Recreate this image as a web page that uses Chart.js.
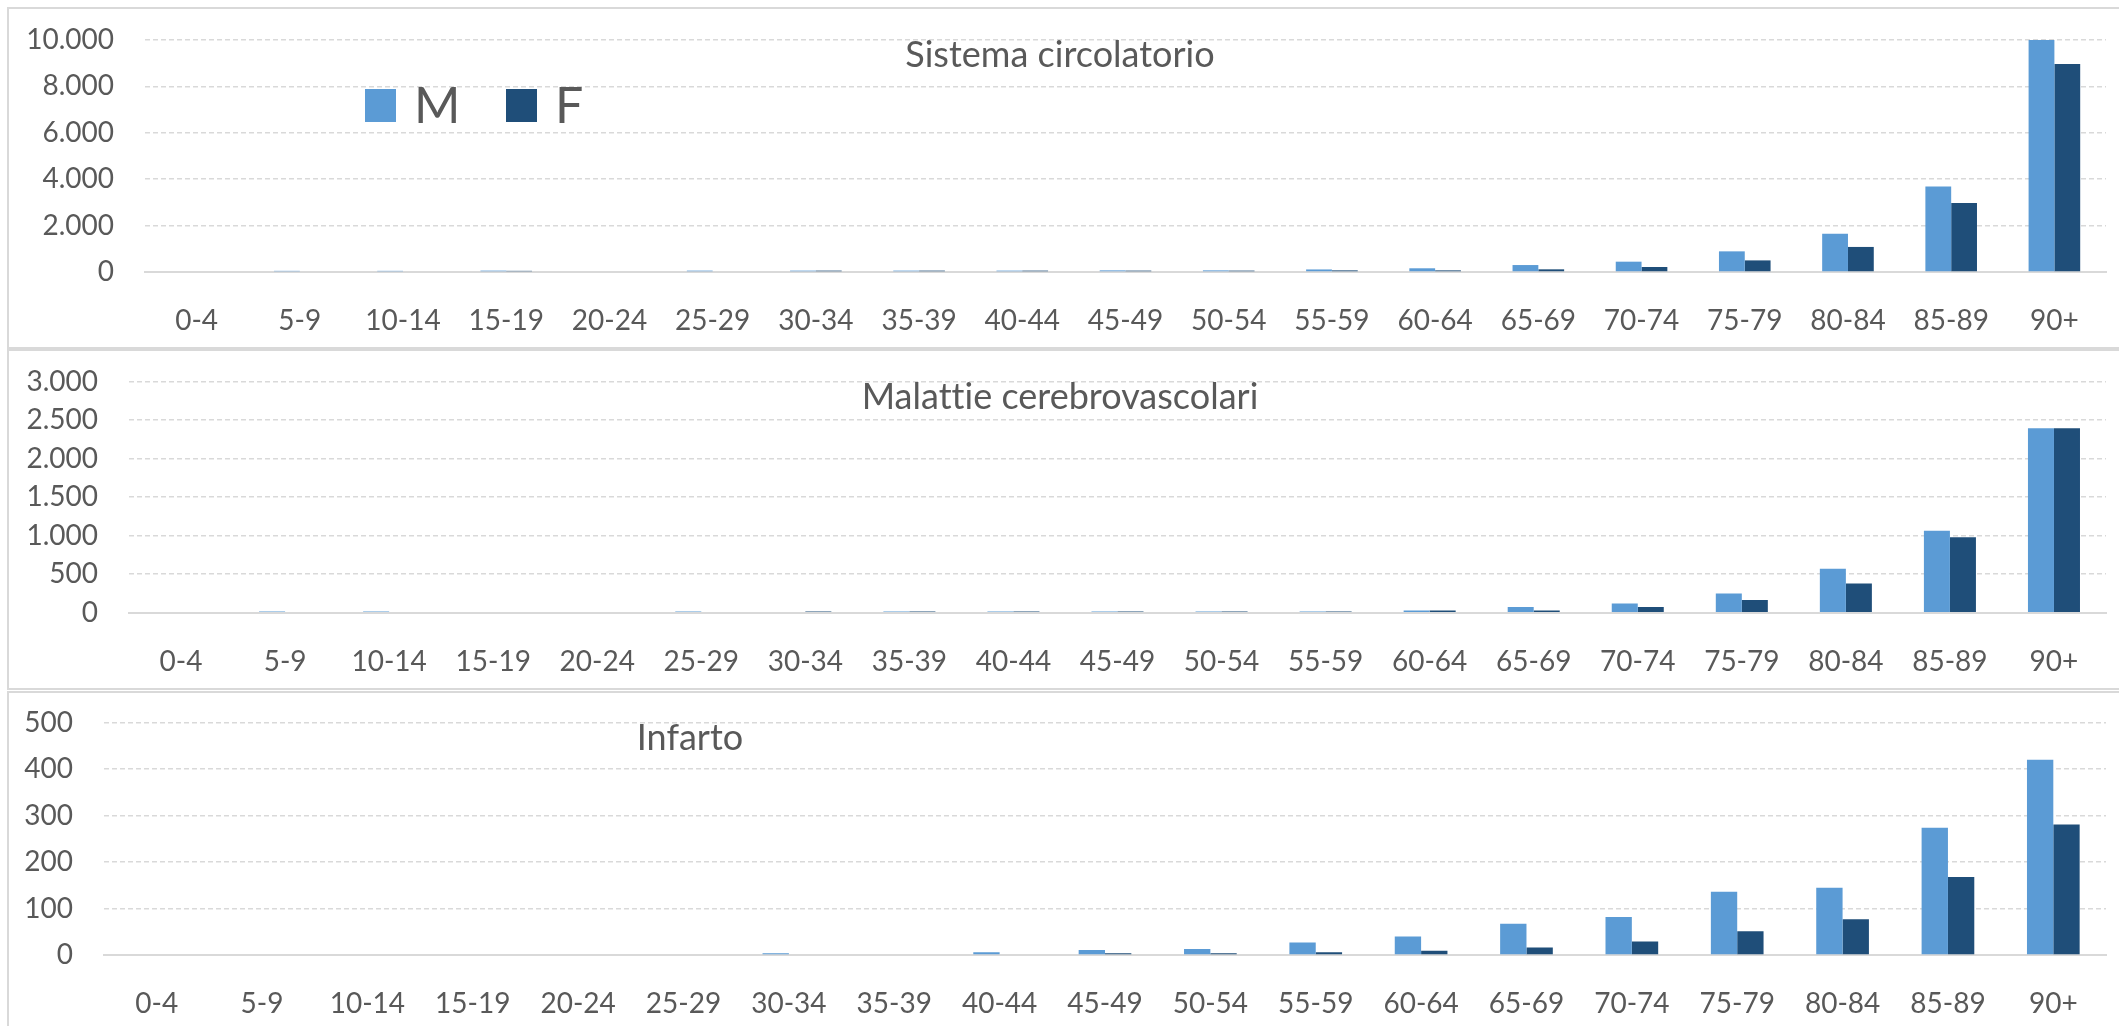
<!DOCTYPE html>
<html>
<head>
<meta charset="utf-8">
<script src="https://cdn.jsdelivr.net/npm/chart.js@4.4.1/dist/chart.umd.min.js"></script>
<style>
  html, body { margin: 0; padding: 0; background: #ffffff; }
  body { width: 2119px; height: 1026px; position: relative; overflow: hidden; }
  .frame { position: absolute; left: 7px; width: 2130px; border: 2px solid #d9d9d9; box-sizing: border-box; background: #ffffff; }
  canvas { position: absolute; left: 0; }
</style>
</head>
<body>
<div class="frame" style="top:7px;height:342px;"></div>
<div class="frame" style="top:349px;height:341px;"></div>
<div class="frame" style="top:691px;height:345px;"></div>
<canvas id="circ" width="2119" height="349" style="top:0px"></canvas>
<canvas id="cere" width="2119" height="341" style="top:349px"></canvas>
<canvas id="inf" width="2119" height="336" style="top:690px"></canvas>
<script>
// Age classes on the horizontal axis
const ageGroups = ['0-4', '5-9', '10-14', '15-19', '20-24', '25-29', '30-34', '35-39', '40-44',
                   '45-49', '50-54', '55-59', '60-64', '65-69', '70-74', '75-79', '80-84', '85-89', '90+'];

// Series names and colours
const seriesNames = ['M', 'F'];
const seriesColors = ['#5B9BD5', '#1F4E79'];

// Sistema circolatorio
const circM = [0, 50, 50, 60, 0, 60, 60, 60, 60, 70, 70, 110, 160, 300, 445, 890, 1650, 3690, 10000];
const circF = [0, 0, 0, 50, 0, 0, 60, 60, 60, 60, 60, 70, 70, 115, 215, 500, 1080, 2970, 8970];
const circTicks = [0, 2000, 4000, 6000, 8000, 10000];

// Malattie cerebrovascolari
const cereM = [0, 15, 15, 0, 0, 15, 0, 15, 15, 15, 15, 15, 30, 75, 120, 250, 570, 1065, 2395];
const cereF = [0, 0, 0, 0, 0, 0, 15, 15, 15, 15, 15, 15, 30, 30, 75, 165, 380, 980, 2395];
const cereTicks = [0, 500, 1000, 1500, 2000, 2500, 3000];

// Infarto
const infM = [0, 0, 0, 0, 0, 0, 4, 0, 6, 11, 13, 27, 40, 67, 82, 136, 145, 274, 420];
const infF = [0, 0, 0, 0, 0, 0, 0, 0, 0, 4, 4, 6, 9, 16, 29, 51, 77, 168, 281];
const infTicks = [0, 100, 200, 300, 400, 500];

const FONT = "Lato, 'Open Sans', sans-serif";
const TEXT = '#595959';
const GRID = '#d9d9d9';

// Thousands separator as a dot
function fmt(v) {
  return String(v).replace(/\B(?=(\d{3})+(?!\d))/g, '.');
}

// Panel heading and (optionally) the series key
const panelText = {
  id: 'panelText',
  afterDraw(chart, args, opts) {
    const { ctx, chartArea } = chart;
    ctx.save();
    ctx.letterSpacing = '0.01px';
    ctx.fillStyle = TEXT;
    ctx.font = opts.titleSize + 'px ' + FONT;
    ctx.textAlign = 'center';
    ctx.textBaseline = 'alphabetic';
    ctx.fillText(opts.title, opts.titleX, chartArea.top + opts.titleBase);
    if (opts.key) {
      const k = opts.key;
      chart.data.datasets.forEach((ds, i) => {
        const x = k.x[i];
        ctx.fillStyle = ds.backgroundColor;
        ctx.fillRect(x, k.top, k.box[0], k.box[1]);
        ctx.fillStyle = TEXT;
        ctx.font = k.size + 'px ' + FONT;
        ctx.textAlign = 'left';
        ctx.textBaseline = 'alphabetic';
        ctx.fillText(ds.label, x + k.box[0] + k.gap, k.top + k.box[1] + 1);
      });
    }
    ctx.restore();
  }
};

function buildPanel(id, cfg) {
  const canvas = document.getElementById(id);
  const tickVals = cfg.ticks;
  return new Chart(canvas, {
    type: 'bar',
    data: {
      labels: ageGroups,
      datasets: [
        { label: seriesNames[0], data: cfg.m, backgroundColor: seriesColors[0], categoryPercentage: 0.5, barPercentage: 1.0 },
        { label: seriesNames[1], data: cfg.f, backgroundColor: seriesColors[1], categoryPercentage: 0.5, barPercentage: 1.0 }
      ]
    },
    options: {
      responsive: false,
      animation: false,
      devicePixelRatio: 1,
      layout: { padding: { top: cfg.top, right: 2119 - cfg.right, left: 0, bottom: 0 } },
      plugins: {
        legend: { display: false },
        tooltip: { enabled: false },
        title: { display: false },
        panelText: { title: cfg.title, titleX: cfg.titleX, titleBase: 27, titleSize: 36, key: cfg.key }
      },
      scales: {
        x: {
          grid: { display: false },
          border: { display: true, color: GRID, width: 2 },
          ticks: { color: TEXT, font: { family: FONT, size: 28 }, padding: 24, maxRotation: 0, autoSkip: false },
          afterFit(s) {
            s.height = canvas.height - cfg.bottom;
            s.paddingLeft = 0; s.paddingRight = 0;
          }
        },
        y: {
          min: 0,
          max: tickVals[tickVals.length - 1],
          afterBuildTicks(s) { s.ticks = tickVals.map(v => ({ value: v })); },
          grid: {
            color: c => (c.tick && c.tick.value === 0) ? 'rgba(0,0,0,0)' : GRID,
            lineWidth: 1.5,
            drawTicks: false
          },
          border: { display: false, dash: [5, 3] },
          ticks: { color: TEXT, font: { family: FONT, size: 28 }, padding: 31, autoSkip: false, callback: v => fmt(v) },
          afterFit(s) {
            s.width = cfg.left;
            s.paddingTop = 0; s.paddingBottom = 0;
          }
        }
      }
    },
    plugins: [panelText]
  });
}

buildPanel('circ', {
  m: circM, f: circF, ticks: circTicks,
  top: 40, bottom: 272, left: 145, right: 2106,
  title: 'Sistema circolatorio', titleX: 1060,
  key: { x: [365, 506], top: 89, box: [31, 33], gap: 18, size: 50 }
});

buildPanel('cere', {
  m: cereM, f: cereF, ticks: cereTicks,
  top: 32.7, bottom: 263.7, left: 129, right: 2106,
  title: 'Malattie cerebrovascolari', titleX: 1060
});

buildPanel('inf', {
  m: infM, f: infF, ticks: infTicks,
  top: 32.7, bottom: 265, left: 104, right: 2106,
  title: 'Infarto', titleX: 690
});
</script>
</body>
</html>
